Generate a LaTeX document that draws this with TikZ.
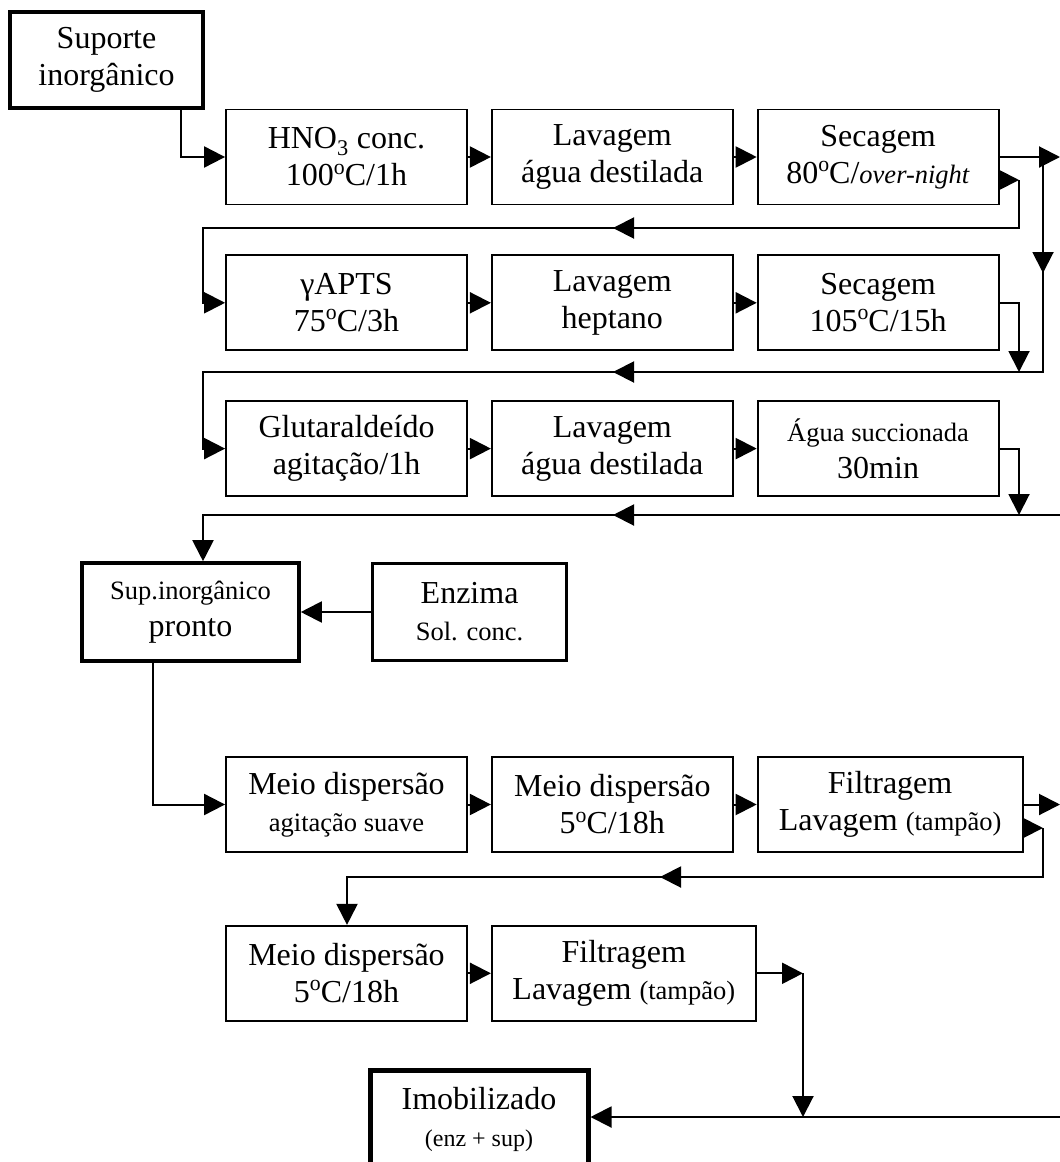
\documentclass[tikz,border=0pt]{standalone}
\usepackage{fontspec}
\setmainfont{Liberation Serif}
\usepackage{tikz}
\usetikzlibrary{positioning}
\usetikzlibrary{arrows.meta}
\usetikzlibrary{decorations.markings}

\newcommand{\grau}{\raisebox{0.37em}{\scalebox{0.68}{o}}}
\newcommand{\pqn}[1]{{\fontsize{26.5}{31}\selectfont #1}}

\begin{document}
\begin{tikzpicture}[x=1pt, y=-1pt, line width=2pt, >={Triangle[length=21pt, width=21pt]},
                    etapa/.style={rectangle, draw, line width=1.8pt, minimum width=241pt, minimum height=95pt, inner sep=0pt, align=center, font=\fontsize{32}{37}\selectfont},
                    inicio/.style={etapa, line width=3.6pt},
                    final/.style={etapa, line width=5pt},
                    meio/.style={postaction={decorate, decoration={markings, mark=at position #1 with {\arrow{>}}}}}]
\useasboundingbox (0,0) rectangle (1060,1162);
\clip (0,0) rectangle (1060,1162);
\node (suporte) [inicio, minimum width=193pt, minimum height=96pt] at (106.5,60) {Suporte\\inorgânico};
\node (hno) [etapa] at (346.5,157) {HNO\textsubscript{3} conc.\\100\grau C/1h};
\node (lav1) [etapa, right=23pt of hno] {Lavagem\\água destilada};
\node (sec1) [etapa, right=23pt of lav1] {Secagem\\80\grau C/\pqn{\textit{over-night}}};
\node (aps) [etapa, below=49pt of hno] {γAPTS\\75\grau C/3h};
\node (lav2) [etapa, right=23pt of aps] {Lavagem\\heptano};
\node (sec2) [etapa, right=23pt of lav2] {Secagem\\105\grau C/15h};
\node (glu) [etapa, below=49pt of aps] {Glutaraldeído\\agitação/1h};
\node (lav3) [etapa, right=23pt of glu] {Lavagem\\água destilada};
\node (agua) [etapa, right=23pt of lav3] {\pqn{Água succionada}\\30min};
\node (pronto) [inicio, minimum width=217pt, minimum height=98pt] at (190.5,612) {\pqn{Sup.inorgânico}\\pronto};
\node (enz) [inicio, minimum width=194pt, minimum height=97pt, right=70pt of pronto] {Enzima\\\pqn{Sol. conc.}};
\node (md1) [etapa] at (346.5,804.5) {Meio dispersão\\\pqn{agitação suave}};
\node (md2) [etapa, right=23pt of md1] {Meio dispersão\\5\grau C/18h};
\node (fil1) [etapa, minimum width=265pt, right=23pt of md2] {Filtragem\\Lavagem \pqn{(tampão)}};
\node (md3) [etapa, below=72pt of md1] {Meio dispersão\\5\grau C/18h};
\node (fil2) [etapa, minimum width=264pt, right=23pt of md3] {Filtragem\\Lavagem \pqn{(tampão)}};
\node (imo) [final, minimum width=218pt, minimum height=130pt, text depth=38pt, anchor=north] at (479,1068) {Imobilizado\\{\fontsize{24}{28}\selectfont (enz + sup)}};
\coordinate (borda1) at (1060,157);
\coordinate (v1) at (1043,157);
\coordinate (v2) at (1043,372);
\coordinate (k2) at (203,372);
\coordinate (v3) at (1019,180);
\coordinate (v4) at (1019,228);
\coordinate (k1) at (203,228);
\coordinate (v5) at (1019,372);
\coordinate (v6) at (1019,515);
\coordinate (borda3) at (1060,515);
\coordinate (k3) at (203,515);
\coordinate (borda4) at (1060,804);
\coordinate (v7) at (1043,828);
\coordinate (v8) at (1043,877);
\coordinate (k4) at (347,877);
\coordinate (v9) at (803,973);
\coordinate (v10) at (803,1117);
\coordinate (borda5) at (1060,1117);
\draw[->] ([xshift=-24pt]suporte.south east) |- (hno.west);
\draw[->] (hno) -- (lav1);
\draw[->] (lav1) -- (sec1);
\draw[->] (sec1.east) -- (sec1.east -| borda1);
\draw[->] (sec1.east |- v3) -- (v3);
\draw[->, meio=454pt] (v3) -- (v4) -- (k1) |- (aps.west);
\draw[->] (aps) -- (lav2);
\draw[->] (lav2) -- (sec2);
\draw[->, meio=116pt, meio=645pt] (v1) -- (v2) -- (k2) |- (glu.west);
\draw[->] (sec2.east) -| (v5);
\draw[->] (glu) -- (lav3);
\draw[->] (lav3) -- (agua);
\draw[->] (agua.east) -| (v6);
\draw[->, meio=447pt] (borda3) -- (k3) -- (k3 |- pronto.north);
\draw[->] (enz) -- (pronto);
\draw[->] ([xshift=73pt]pronto.south west) |- (md1.west);
\draw[->] (md1) -- (md2);
\draw[->] (md2) -- (fil1);
\draw[->] (fil1.east) -- (fil1.east -| borda4);
\draw[->] (fil1.east |- v7) -- (v7);
\draw[->, meio=432pt] (v7) -- (v8) -- (k4) -- (k4 |- md3.north);
\draw[->] (md3) -- (fil2);
\draw[->] (fil2.east) -- (fil2.east -| v9);
\draw[->] (v9) -- (v10);
\draw[->] (borda5) -- (borda5 -| imo.east);
\end{tikzpicture}
\end{document}
